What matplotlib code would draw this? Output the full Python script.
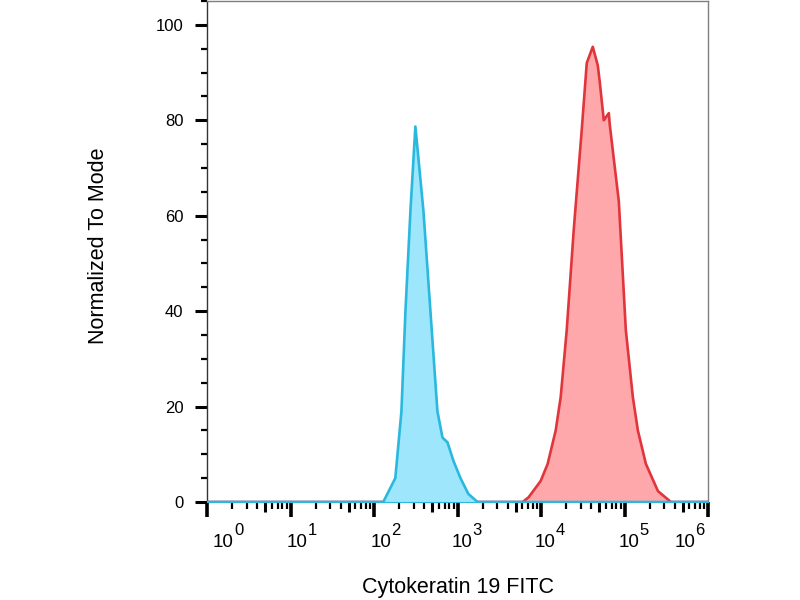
import matplotlib.pyplot as plt
import matplotlib.transforms as mtransforms
from matplotlib.lines import TICKDOWN
from matplotlib.ticker import LogLocator, MultipleLocator, NullFormatter

plt.rcParams['font.family'] = ['Liberation Sans', 'DejaVu Sans']

# blue: control, red: Cytokeratin 19 stained (intensity, % of mode)
blue_x = [1, 129, 180, 213, 238, 273, 313, 391, 474, 575, 661, 759, 895, 1086, 1349, 1738, 1e6]
blue_y = [0, 0, 5, 19, 40, 61, 78.7, 61, 40, 19, 13.5, 12.5, 8.6, 5, 1.7, 0, 0]

red_x = [1, 6026, 7112, 9908, 12023, 15000, 17219, 20324, 24660, 30761, 35318, 41687,
         47863, 50582, 56494, 64863, 66681, 85507, 103753, 125893, 144544, 180302,
         251189, 359749, 1e6]
red_y = [0, 0, 1, 4.4, 8, 15, 22, 36, 57, 78, 92, 95.4,
         91.5, 88, 80, 81.5, 79, 63, 36, 22, 15, 8,
         2.3, 0, 0]

decades = [0, 1, 2, 3, 4, 5, 6]

fig = plt.figure(figsize=(8, 6), dpi=100)
ax = fig.add_axes([207 / 800, 1 - 502 / 600, 501 / 800, 501 / 600])

ax.fill_between(red_x, red_y, color='#ffa8ab', linewidth=0, zorder=2)
ax.plot(red_x, red_y, color='#e0353b', linewidth=1.9, zorder=3)
ax.fill_between(blue_x, blue_y, color='#9de6fb', linewidth=0, zorder=4)
ax.plot(blue_x, blue_y, color='#2bb8df', linewidth=1.9, zorder=5)

ax.set_xscale('log')
ax.set_xlim(1, 1e6)
ax.set_ylim(0, 105)

# y ticks
ax.set_yticks([0, 20, 40, 60, 80, 100])
ax.yaxis.set_minor_locator(MultipleLocator(5))
ax.tick_params(axis='y', which='major', length=9, width=2.2, labelsize=12, pad=8)
ax.tick_params(axis='y', which='minor', length=4, width=1.6)

# x ticks, labels drawn by hand below
ax.set_xticks([10.0 ** d for d in decades])
ax.set_xticklabels([])
ax.xaxis.set_minor_locator(LogLocator(base=10, subs=[2, 3, 4, 6, 7, 8, 9], numticks=20))
ax.xaxis.set_minor_formatter(NullFormatter())
ax.tick_params(axis='x', which='major', length=11, width=2.6)
ax.tick_params(axis='x', which='minor', length=5, width=1.6)

fives = [5 * 10.0 ** d for d in decades[:-1]]
trans = mtransforms.blended_transform_factory(ax.transData, ax.transAxes)
ax.plot(fives, [0] * len(fives), transform=trans, linestyle='none', marker=TICKDOWN,
        markersize=7.5, markeredgewidth=2.2, color='black', clip_on=False)

# "10" with a big raised exponent, like the cytometry software draws it
label_dx = [27, 17, 17, 15, 15, 15, -13]
for d, dx in zip(decades, label_dx):
    base = mtransforms.offset_copy(trans, fig=fig, x=dx, y=-45, units='dots')
    ax.text(10.0 ** d, 0, '10', transform=base, ha='right', va='baseline', fontsize=13.5)
    sup = mtransforms.offset_copy(trans, fig=fig, x=dx, y=-33, units='dots')
    ax.text(10.0 ** d, 0, str(d), transform=sup, ha='left', va='baseline', fontsize=12)

for side in ['top', 'right']:
    ax.spines[side].set_color('#7f7f7f')
    ax.spines[side].set_linewidth(1.0)
ax.spines['left'].set_color('#333333')
ax.spines['left'].set_linewidth(1.0)
ax.spines['bottom'].set_color('#2bb8df')
ax.spines['bottom'].set_zorder(6)

fig.text(458 / 800, 1 - 588 / 600, 'Cytokeratin 19 FITC', ha='center', va='center', fontsize=15.5)
fig.text(98 / 800, 1 - 246 / 600, 'Normalized To Mode', ha='center', va='center',
         rotation=90, fontsize=15.5)

fig.savefig('out.png', dpi=100)
